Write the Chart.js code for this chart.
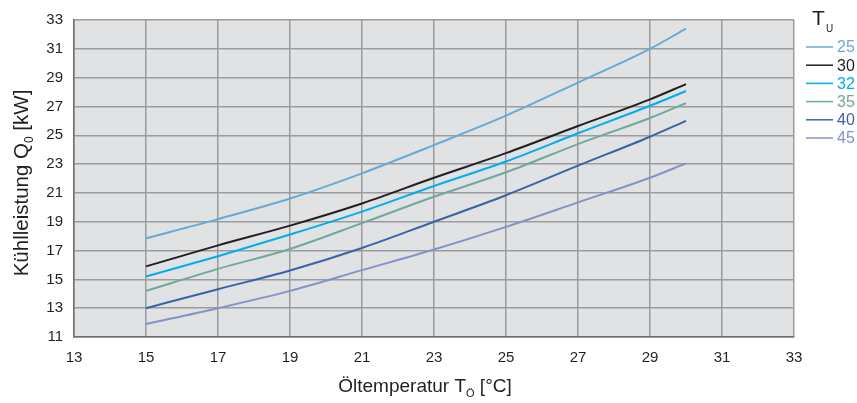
<!DOCTYPE html>
<html>
<head>
<meta charset="utf-8">
<script src="https://cdn.jsdelivr.net/npm/chart.js@4"></script>
<style>
  html, body { margin: 0; padding: 0; background: #fff; }
  #wrap { width: 857px; height: 403px; }
</style>
</head>
<body>
<div id="wrap"><canvas id="kuehlChart" width="857" height="403"></canvas></div>
<script>
// Öltemperatur (x) and Kühlleistung per Umgebungstemperatur T_U
const oilTemps = [15, 17, 19, 21, 23, 25, 27, 29, 30];
const ambientLabels = ['25', '30', '32', '35', '40', '45'];
const q25 = [17.85, 19.18, 20.61, 22.36, 24.32, 26.36, 28.66, 31.0, 32.4];
const q30 = [15.9, 17.36, 18.73, 20.27, 22.05, 23.76, 25.64, 27.49, 28.55];
const q32 = [15.2, 16.61, 18.11, 19.7, 21.48, 23.18, 25.14, 27.05, 28.07];
const q35 = [14.2, 15.73, 17.11, 18.9, 20.73, 22.43, 24.39, 26.2, 27.23];
const q40 = [13.0, 14.32, 15.62, 17.18, 19.0, 20.84, 22.89, 24.9, 26.0];
const q45 = [11.9, 13.0, 14.2, 15.64, 17.07, 18.64, 20.34, 22.05, 23.05];
const seriesColors = ['#68aad3', '#231f20', '#00aeef', '#6fa99c', '#3a63a6', '#8592c8'];

const FONT = '"Liberation Sans", Arial, sans-serif';
const allSeries = [q25, q30, q32, q35, q40, q45];

const datasets = allSeries.map((vals, i) => ({
    label: ambientLabels[i],
    data: vals.map((v, j) => ({ x: oilTemps[j], y: v })),
    borderColor: seriesColors[i],
    borderWidth: 2,
    pointRadius: 0,
    fill: false,
    cubicInterpolationMode: 'monotone'
}));

// grey plot background
const plotBackground = {
    id: 'plotBackground',
    beforeDraw(chart) {
        const { ctx, chartArea: a } = chart;
        ctx.save();
        ctx.fillStyle = '#e1e2e4';
        ctx.fillRect(a.left, a.top, a.right - a.left, a.bottom - a.top);
        ctx.restore();
    }
};

// axis titles with subscripts + legend on the right
const extras = {
    id: 'extras',
    afterDraw(chart) {
        const { ctx } = chart;
        ctx.save();
        ctx.fillStyle = '#231f20';
        ctx.textBaseline = 'alphabetic';

        // x title: Öltemperatur T_Ö [°C]
        let big = '19px ' + FONT, small = '11px ' + FONT;
        ctx.font = big;
        const p1 = 'Öltemperatur T', p3 = ' [°C]';
        ctx.font = small;
        const w2 = ctx.measureText('Ö').width;
        ctx.font = big;
        const w1 = ctx.measureText(p1).width, w3 = ctx.measureText(p3).width;
        let x = 425 - (w1 + w2 + w3) / 2;
        const yb = 392;
        ctx.fillText(p1, x, yb);
        x += w1;
        ctx.font = small;
        ctx.fillText('Ö', x, yb + 5);
        x += w2;
        ctx.font = big;
        ctx.fillText(p3, x, yb);

        // y title: Kühlleistung Q_0 [kW]
        big = '20.5px ' + FONT;
        small = '12px ' + FONT;
        ctx.save();
        ctx.translate(28, 183);
        ctx.rotate(-Math.PI / 2);
        const q1 = 'Kühlleistung Q', q3 = ' [kW]';
        ctx.font = big;
        const v1 = ctx.measureText(q1).width, v3 = ctx.measureText(q3).width;
        ctx.font = small;
        const v2 = ctx.measureText('0').width;
        let s = -(v1 + v2 + v3) / 2;
        ctx.font = big;
        ctx.fillText(q1, s, 0);
        s += v1;
        ctx.font = small;
        ctx.fillText('0', s, 5);
        s += v2;
        ctx.font = big;
        ctx.fillText(q3, s, 0);
        ctx.restore();

        // legend
        ctx.font = '21px ' + FONT;
        ctx.fillText('T', 812, 25);
        ctx.font = '10px ' + FONT;
        ctx.fillText('U', 826, 32);
        ctx.font = '16px ' + FONT;
        ctx.textBaseline = 'middle';
        chart.data.datasets.forEach((ds, i) => {
            const ly = 47 + i * 18.2;
            ctx.strokeStyle = ds.borderColor;
            ctx.lineWidth = 1.5;
            ctx.beginPath();
            ctx.moveTo(806, ly);
            ctx.lineTo(833, ly);
            ctx.stroke();
            ctx.fillStyle = ds.borderColor;
            ctx.fillText(ds.label, 837, ly + 1);
        });
        ctx.restore();
    }
};

new Chart(document.getElementById('kuehlChart'), {
    type: 'line',
    data: { datasets },
    options: {
        responsive: false,
        animation: false,
        devicePixelRatio: 1,
        layout: { padding: { left: 0, right: 63, top: 16, bottom: 0 } },
        plugins: {
            legend: { display: false },
            tooltip: { enabled: false }
        },
        scales: {
            x: {
                type: 'linear',
                min: 13,
                max: 33,
                afterFit(scale) { scale.height = 66; },
                ticks: { stepSize: 2, color: '#231f20', font: { family: FONT, size: 15 }, padding: 12 },
                grid: { color: '#9b9c9e', lineWidth: 1.5, drawTicks: false },
                border: { color: '#6d6e71', width: 1.5 }
            },
            y: {
                min: 11,
                max: 33,
                afterFit(scale) { scale.width = 74; },
                ticks: { stepSize: 2, color: '#231f20', font: { family: FONT, size: 15 }, padding: 11 },
                grid: { color: '#9b9c9e', lineWidth: 1.5, drawTicks: false },
                border: { color: '#6d6e71', width: 1.5 }
            }
        }
    },
    plugins: [plotBackground, extras]
});
</script>
</body>
</html>
